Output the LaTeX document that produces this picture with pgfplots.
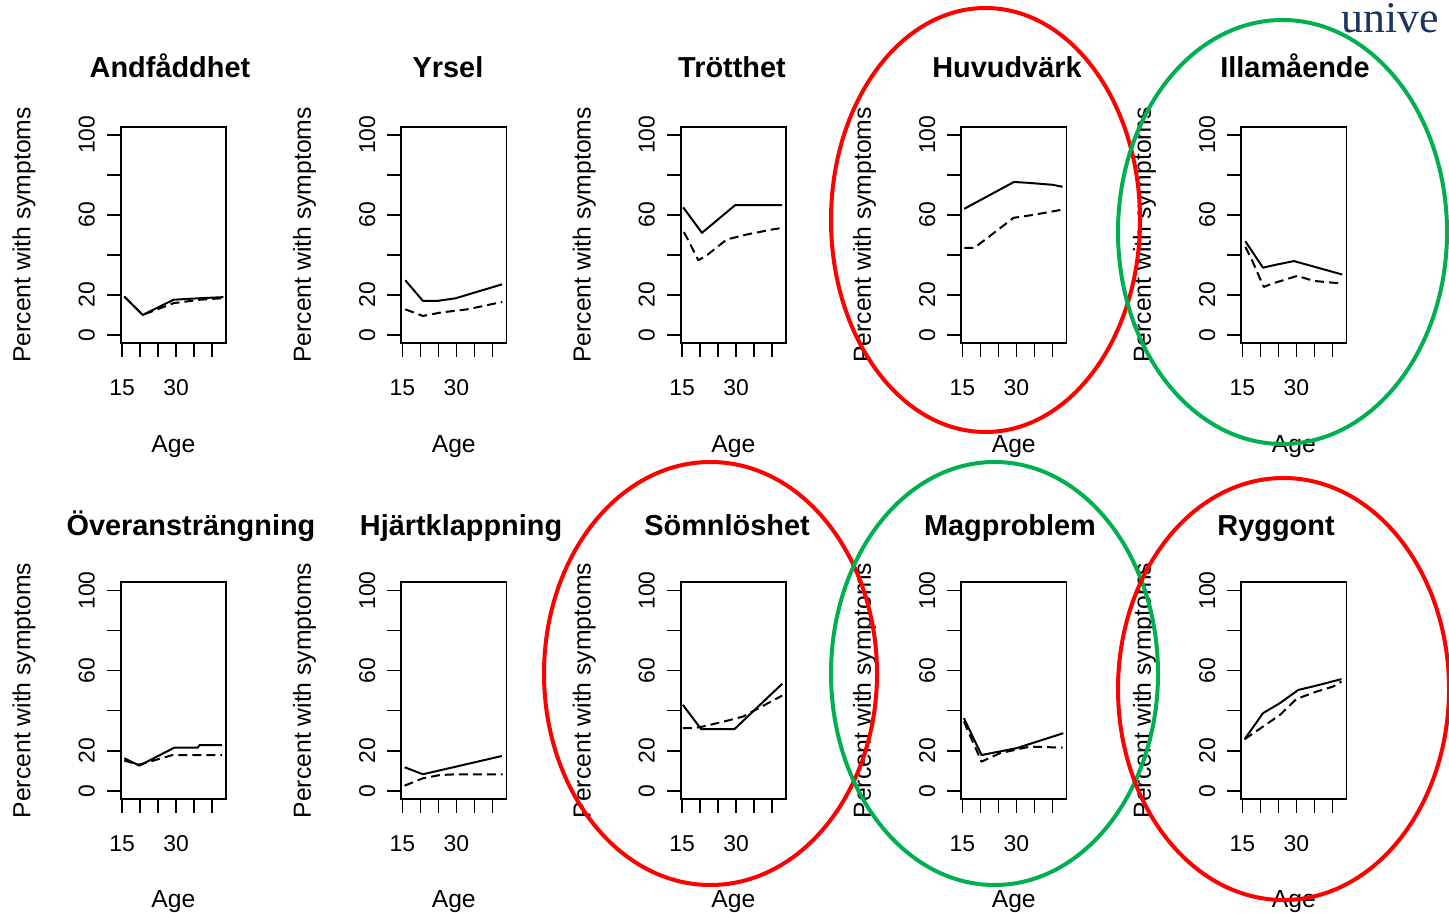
\documentclass[border=0pt]{standalone}
\usepackage{fontspec}
\setmainfont{Liberation Sans}
\newfontfamily\seriffont{Liberation Serif}
\usepackage{pgfplots}
\pgfplotsset{compat=1.18}
\definecolor{ellred}{RGB}{255,0,0}
\definecolor{ellgreen}{RGB}{0,176,80}
\definecolor{navy}{RGB}{28,52,96}
\pgfplotsset{
 rpanel/.style={
  width=52.75bp, height=108.15bp, scale only axis,
  xmin=14.6, xmax=43.9, ymin=-4, ymax=104,
  axis line style={line width=0.9bp},
  tick style={line width=0.9bp, black},
  tick align=outside, major tick length=7bp, tick pos=left,
  xtick={15,20,25,30,35,40}, xticklabels={15,,,30,,},
  ytick={0,20,40,60,80,100}, yticklabels={0,20,,60,,100},
  /pgf/number format/assume math mode=true,
  ticklabel style={font=\fontsize{11.5}{11.5}\selectfont},
  xticklabel style={anchor=base, yshift=-19.5bp},
  yticklabel style={rotate=90, anchor=base, yshift=6bp},
  xlabel={Age}, ylabel={Percent with symptoms},
  label style={font=\fontsize{12.4}{12.4}\selectfont},
  xlabel style={at={(axis description cs:0.5,-0.504)}, anchor=base},
  ylabel style={at={(axis description cs:-0.855,0.5)}, anchor=base},
  title style={font=\fontsize{14.5}{14.5}\selectfont\bfseries, anchor=base},
 },
 sline/.style={line width=1bp, black, line join=round},
 dline/.style={line width=1bp, black, line join=round, dash pattern=on 4.5bp off 2.5bp},
}
\begin{document}
\begin{tikzpicture}
\useasboundingbox (0,0) rectangle (724.5bp,456.5bp);
% ---------- top row ----------
\begin{axis}[rpanel, at={(60.35bp,285bp)}, anchor=south west, title={Andfåddhet}, title style={at={(axis description cs:0.467,1.17)}}]
\addplot[sline] coordinates {(15.6,19.2) (20.7,10) (29.3,17.6) (36,18.3) (43.1,18.9)};
\addplot[dline] coordinates {(15.6,19.2) (20.7,10) (29.3,15.9) (36.7,17.6) (43.1,18.4)};
\end{axis}
\begin{axis}[rpanel, at={(200.5bp,285bp)}, anchor=south west, title={Yrsel}, title style={at={(axis description cs:0.445,1.17)}}]
\addplot[sline] coordinates {(15.8,27.3) (20.7,17) (24.6,17) (29.7,18.3) (42.7,25.3)};
\addplot[dline] coordinates {(15.8,12.8) (20.7,9.5) (25.6,11.2) (33,12.8) (42.7,16.5)};
\end{axis}
\begin{axis}[rpanel, at={(340.35bp,285bp)}, anchor=south west, title={Trötthet}, title style={at={(axis description cs:0.486,1.17)}}]
\addplot[sline] coordinates {(15.3,63.7) (20.5,51) (29.7,64.8) (42.8,64.8)};
\addplot[dline] coordinates {(15.5,51.4) (16.8,46.9) (19.5,37.3) (22,40) (27.4,47.7) (33,50.2) (40.4,52.8) (42.7,53.4)};
\end{axis}
\begin{axis}[rpanel, at={(480.5bp,285bp)}, anchor=south west, title={Huvudvärk}, title style={at={(axis description cs:0.436,1.17)}}]
\addplot[sline] coordinates {(15.5,63) (29.3,76.4) (33,76) (40,75) (42.8,74)};
\addplot[dline] coordinates {(15.5,43.5) (18.3,43.5) (29.2,58.5) (34.8,60) (42.8,62.6)};
\end{axis}
\begin{axis}[rpanel, at={(620.5bp,285bp)}, anchor=south west, title={Illamående}, title style={at={(axis description cs:0.512,1.17)}}]
\addplot[sline] coordinates {(15.8,46.8) (20.7,33.6) (24.6,35.2) (29.3,36.9) (42.7,30.2)};
\addplot[dline] coordinates {(15.8,44) (17.5,38) (20.9,24) (23.2,25.6) (30.2,29.5) (34.8,27) (40.8,26) (42.7,26)};
\end{axis}
% ---------- bottom row ----------
\begin{axis}[rpanel, at={(60.35bp,57.15bp)}, anchor=south west, title={Överansträngning}, title style={at={(axis description cs:0.666,1.161)}}]
\addplot[sline] coordinates {(15.6,16.2) (19.8,12.5) (29.5,21.5) (36,21.5) (36.5,22.8) (42.8,22.8)};
\addplot[dline] coordinates {(15.6,15) (19.8,13) (29,17.8) (42.8,17.8)};
\end{axis}
\begin{axis}[rpanel, at={(200.5bp,57.15bp)}, anchor=south west, title={Hjärtklappning}, title style={at={(axis description cs:0.569,1.161)}}]
\addplot[sline] coordinates {(15.6,11.7) (20.7,8.2) (42.6,17.3)};
\addplot[dline] coordinates {(15.6,2.5) (20.7,6.2) (25.4,7.8) (30,8.2) (42.8,8.2)};
\end{axis}
\begin{axis}[rpanel, at={(340.35bp,57.15bp)}, anchor=south west, title={Sömnlöshet}, title style={at={(axis description cs:0.439,1.161)}}]
\addplot[sline] coordinates {(15.2,42.8) (20.3,30.7) (29.5,30.7) (42.8,53.4)};
\addplot[dline] coordinates {(15.2,31.2) (18,31.2) (20.7,32) (27.2,34.8) (31.9,37) (42.8,47.5)};
\end{axis}
\begin{axis}[rpanel, at={(480.5bp,57.15bp)}, anchor=south west, title={Magproblem}, title style={at={(axis description cs:0.464,1.161)}}]
\addplot[sline] coordinates {(15.4,36.2) (20.3,17.8) (30,21.2) (43,28.7)};
\addplot[dline] coordinates {(15.4,34.5) (20.3,14.5) (25.4,18.7) (33.7,22) (42.8,21.5)};
\end{axis}
\begin{axis}[rpanel, at={(620.5bp,57.15bp)}, anchor=south west, title={Ryggont}, title style={at={(axis description cs:0.332,1.161)}}]
\addplot[sline] coordinates {(15.6,25.7) (20.7,38.7) (25.4,43.7) (30.5,50.3) (35.6,52.5) (42.5,55.7)};
\addplot[dline] coordinates {(15.6,25.7) (20.7,32) (25.4,37.8) (30,45.8) (35.6,49.5) (40.2,52) (42.5,54.5)};
\end{axis}
% ---------- overlays ----------
\draw[ellred, line width=2bp] (492.75bp,346.5bp) ellipse [x radius=77.25bp, y radius=106bp];
\draw[ellgreen, line width=2bp] (641.25bp,340.5bp) ellipse [x radius=82.25bp, y radius=106bp];
\draw[ellred, line width=2bp] (355.25bp,119.75bp) ellipse [x radius=83.25bp, y radius=105.75bp];
\draw[ellgreen, line width=2bp] (497.25bp,119.75bp) ellipse [x radius=81.75bp, y radius=105.75bp];
\draw[ellred, line width=2bp] (641.75bp,112bp) ellipse [x radius=82.75bp, y radius=105.5bp];
\node[anchor=base west, inner sep=0pt, text=navy, font=\seriffont\fontsize{22}{22}\selectfont] at (670.6bp,440.2bp) {unive};
\end{tikzpicture}
\end{document}
